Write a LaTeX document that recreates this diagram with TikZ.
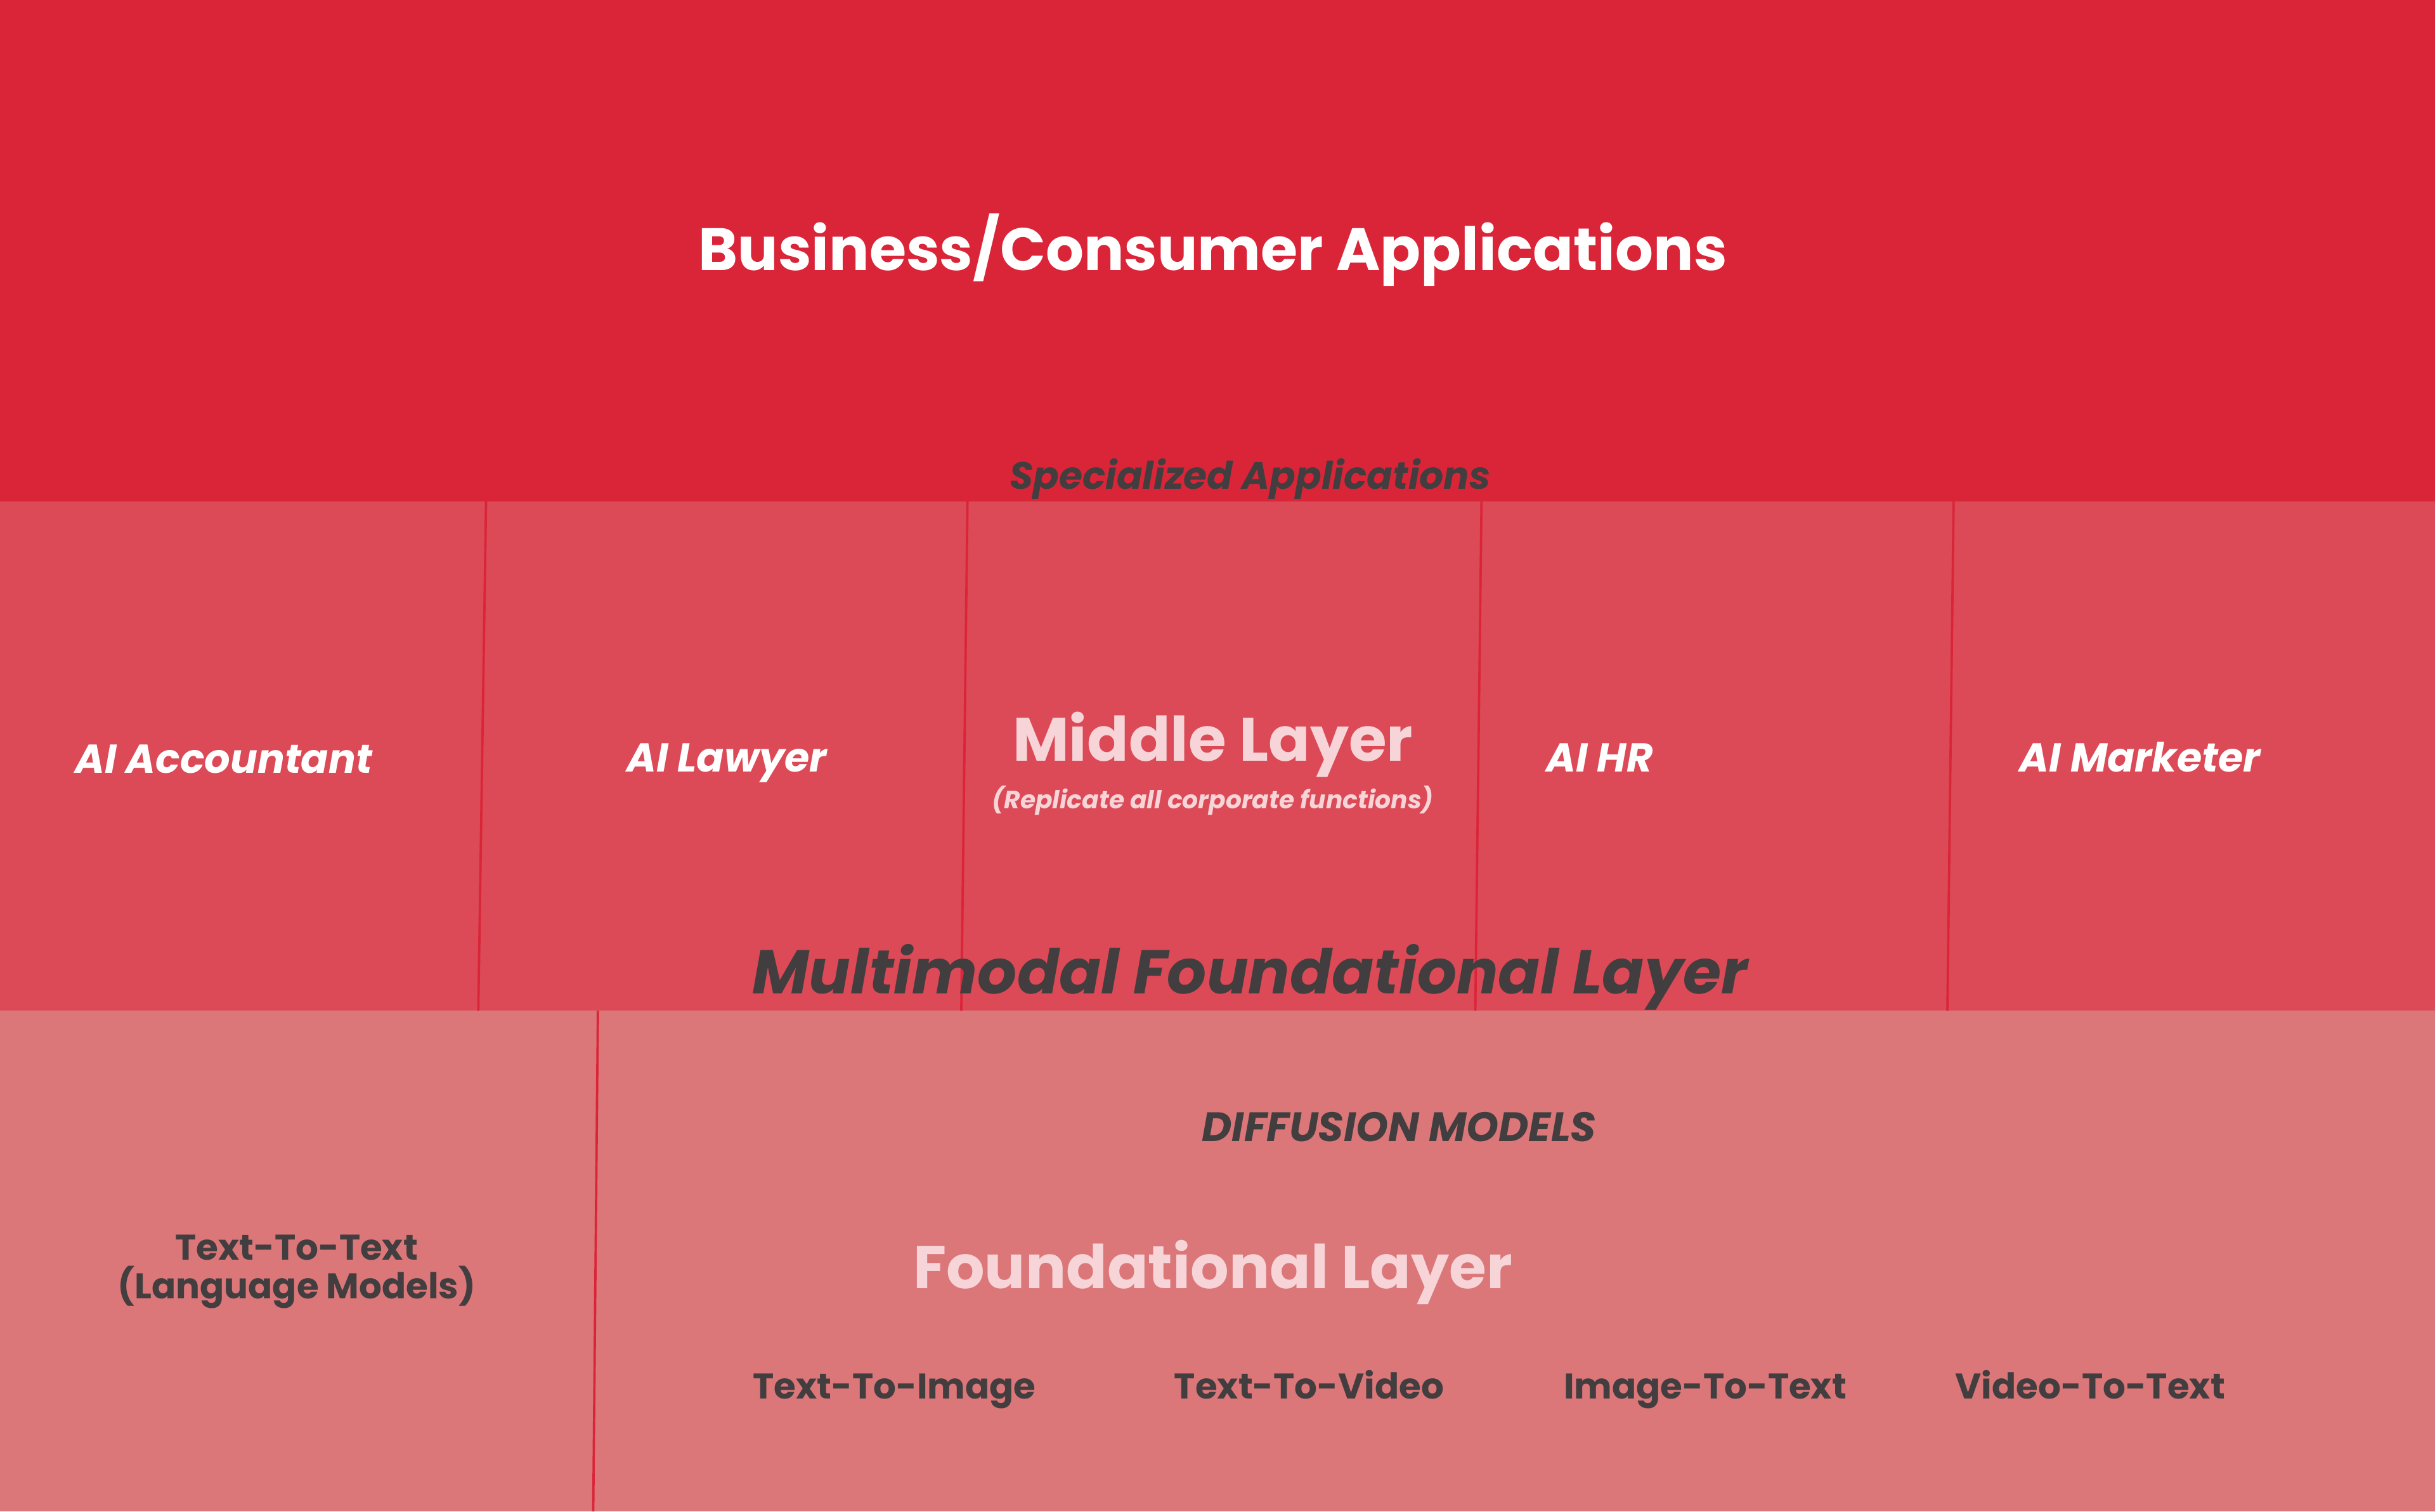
\documentclass[tikz,border=0pt]{standalone}
\usepackage{fontspec}
\setmainfont{Poppins}
\definecolor{topred}{RGB}{218,37,57}
\definecolor{midred}{RGB}{219,74,86}
\definecolor{lowred}{RGB}{219,118,121}
\definecolor{ink}{RGB}{66,62,63}
\definecolor{blush}{RGB}{246,212,215}
\begin{document}
\begin{tikzpicture}[x=1pt, y=-1pt,
		banner/.style={anchor=base, text=white, font=\fontsize{38.5}{42}\selectfont\bfseries},
		role/.style={anchor=base, text=white, font=\fontsize{26}{30}\selectfont\bfseries\itshape},
		caption/.style={anchor=base, text=ink, font=\fontsize{24.5}{28}\selectfont\bfseries\itshape},
		model/.style={anchor=base, text=ink, font=\fontsize{23}{25}\selectfont\bfseries, align=center},
		divider/.style={topred, line width=1.5pt}]
	\useasboundingbox (0, 0) rectangle (1568, 973.5);
	\fill[topred] (0, 0) rectangle (1568, 323);
	\fill[midred] (0, 323) rectangle (1568, 651);
	\fill[lowred] (0, 651) rectangle (1568, 973.5);
	\foreach \a/\b in {313/308, 623/619, 954/950, 1258/1254}
		\draw[divider] (\a, 323) -- (\b, 651);
	\draw[divider] (385, 651) -- (382, 973.5);
	% top band
	\node[banner] (business) at (781, 174) {Business/Consumer Applications};
	\node[caption] (special) at (805, 315) {Specialized Applications};
	% middle band
	\node[role] (accountant) at (144, 498) {AI Accountant};
	\node[role] (lawyer) at (468, 497) {AI Lawyer};
	\node[banner, text=blush, font=\fontsize{39.5}{44}\selectfont\bfseries] (middle) at (781, 490) {Middle Layer};
	\node[anchor=base, text=blush, font=\fontsize{16}{18}\selectfont\bfseries\itshape] (replicate) at (781, 521) {(Replicate all corporate functions)};
	\node[role] (hr) at (1030, 497) {AI HR};
	\node[role] (marketer) at (1378, 497) {AI Marketer};
	\node[caption, font=\fontsize{39.8}{44}\selectfont\bfseries\itshape] (multimodal) at (805, 640) {Multimodal Foundational Layer};
	% bottom band
	\node[model, anchor=center] (language) at (191, 819) {Text-To-Text\\(Language Models)};
	\node[caption, font=\fontsize{26.5}{30}\selectfont\bfseries\itshape] (diffusion) at (901, 735) {DIFFUSION MODELS};
	\node[banner, text=blush, font=\fontsize{38.9}{44}\selectfont\bfseries] (foundation) at (781, 830) {Foundational Layer};
	\foreach \x/\name/\txt in {576/teximg/Text-To-Image, 843/texvid/Text-To-Video, 1098/imgtex/Image-To-Text, 1346/vidtex/Video-To-Text}
		\node[model] (\name) at (\x, 901) {\txt};
\end{tikzpicture}
\end{document}
